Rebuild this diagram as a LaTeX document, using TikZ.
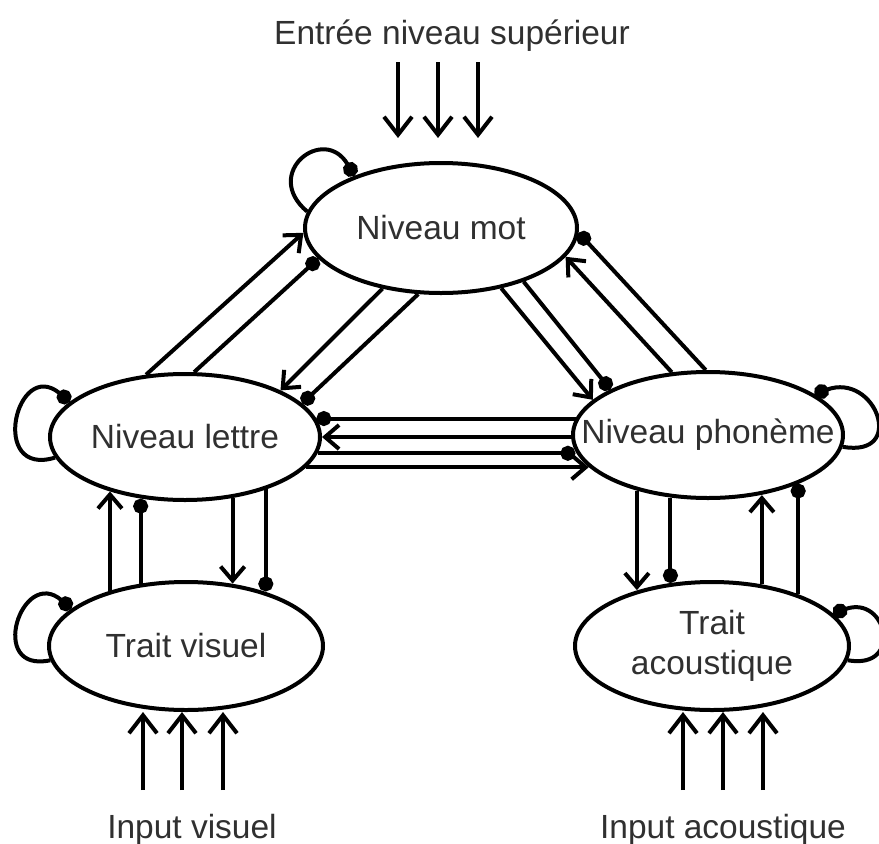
\documentclass[tikz,border=0pt]{standalone}
\usepackage{fontspec}
\setmainfont{Liberation Sans}
\usetikzlibrary{arrows.meta,shapes.geometric}
\definecolor{txt}{HTML}{303030}
\begin{document}
\begin{tikzpicture}[x=1pt,y=-1pt,
  every node/.style={font=\fontsize{33.5}{40}\selectfont, text=txt},
  ell/.style={draw, ellipse, line width=4pt, inner sep=0pt},
  arr/.style={line width=4pt, -{Straight Barb[length=14pt,width=24pt]}},
  inh/.style={line width=4pt, -{Circle[length=15pt]}},
  big/.style={line width=4pt, -{Straight Barb[length=18pt,width=28pt]}},
]
\useasboundingbox (0,0) rectangle (879,844);

% nodes
\node[ell, minimum width=272pt, minimum height=130pt] (mot) at (441,228) {\makebox[0pt]{Niveau mot}};
\node[ell, minimum width=270pt, minimum height=126pt] (lettre) at (185,437) {\makebox[0pt]{Niveau lettre}};
\node[ell, minimum width=274pt, minimum height=128pt] (visuel) at (186,646) {\makebox[0pt]{Trait visuel}};
\node[ell, minimum width=270pt, minimum height=126pt] (phon) at (708,435) {\makebox[0pt]{Niveau phonème}};
\node[ell, minimum width=274pt, minimum height=128pt] (acou) at (712,646) {\makebox[0pt]{\begin{tabular}{@{}c@{}}Trait\\acoustique\end{tabular}}};

\node[anchor=base] (top) at (452,44) {Entrée niveau supérieur};
\node[anchor=base] (iv) at (192,838) {Input visuel};
\node[anchor=base] (ia) at (723,838) {Input acoustique};

% top inputs
\coordinate (a1) at (398,62); \coordinate (b1) at (398,138);
\coordinate (a2) at (438,62); \coordinate (b2) at (438,138);
\coordinate (a3) at (478,62); \coordinate (b3) at (478,138);
\draw[big] (a1) -- (b1);
\draw[big] (a2) -- (b2);
\draw[big] (a3) -- (b3);

% bottom inputs
\coordinate (v1) at (143,790); \coordinate (v2) at (182,790); \coordinate (v3) at (223,790);
\coordinate (c1) at (683,790); \coordinate (c2) at (723,790); \coordinate (c3) at (763,790);
\draw[big] (v1) -- (v1 |- visuel.south);
\draw[big] (v2) -- (v2 |- visuel.south);
\draw[big] (v3) -- (v3 |- visuel.south);
\draw[big] (c1) -- (c1 |- acou.south);
\draw[big] (c2) -- (c2 |- acou.south);
\draw[big] (c3) -- (c3 |- acou.south);

% mot <-> lettre
\draw[arr] (lettre.122) -- (mot.182);
\draw[inh] (lettre.82) -- (mot.194);
\draw[arr] (mot.226) -- (lettre.26);
\draw[inh] (mot.251) -- (lettre.16);

% mot <-> phoneme
\draw[arr] (mot.-45) -- (phon.163);
\draw[inh] (mot.-33) -- (phon.155);
\draw[arr] (phon.120) -- (mot.-13);
\draw[inh] (phon.92) -- (mot.-2);

% lettre <-> phoneme
\draw[inh] (lettre.8 -| phon.172) -- (lettre.8);
\draw[arr] (lettre.0 -| phon.180) -- (lettre.0);
\draw[inh] (lettre.-7) -- (lettre.-7 -| phon.187);
\draw[arr] (lettre.-14) -- (lettre.-14 -| phon.195);

% lettre <-> visuel
\draw[arr] (visuel.144) -- (visuel.144 |- lettre.-144);
\draw[inh] (visuel.126) -- (visuel.126 |- lettre.-125);
\draw[arr] (lettre.-52) -- (lettre.-52 |- visuel.54);
\draw[inh] (lettre.-33) -- (lettre.-33 |- visuel.35);

% phoneme <-> acoustique
\draw[arr] (phon.-142) -- (phon.-142 |- acou.143);
\draw[inh] (phon.-121) -- (phon.-121 |- acou.123);
\draw[arr] (acou.51) -- (acou.51 |- phon.-49);
\draw[inh] (acou.31) -- (acou.31 |- phon.-28);

% self loops
\draw[inh] (mot.173) to[out=140,in=120,looseness=2.6] (mot.149);
\draw[inh] (lettre.189) to[out=197,in=140,looseness=3.1] (lettre.163);
\draw[inh] (visuel.186) to[out=192,in=139,looseness=3] (visuel.162);
\draw[inh] (phon.-5) to[out=-10,in=20,looseness=2.8] (phon.21);
\draw[inh] (acou.-6) to[out=-10,in=20,looseness=3] (acou.15);
\end{tikzpicture}
\end{document}
